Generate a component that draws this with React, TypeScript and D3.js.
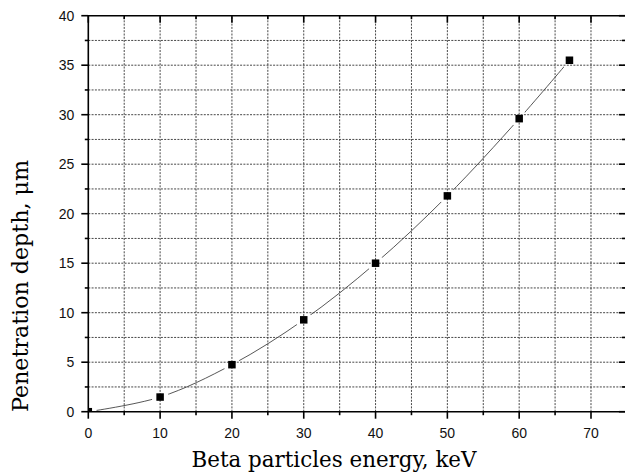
import React from "react";
import * as d3 from "d3";

const energies = [0, 10, 20, 30, 40, 50, 60, 67];
const depths = [0, 1.48, 4.75, 9.28, 15.0, 21.8, 29.6, 35.5];
const xMajor = [0, 10, 20, 30, 40, 50, 60, 70];
const xMinor = [5, 15, 25, 35, 45, 55, 65, 75];
const yMajor = [0, 5, 10, 15, 20, 25, 30, 35, 40];
const yMinor = [2.5, 7.5, 12.5, 17.5, 22.5, 27.5, 32.5, 37.5];
const xTitle = "Beta particles energy, keV";
const yTitle = "Penetration depth, \u03bcm";

export default function App() {
  const W = 625, H = 473;
  const x = d3.scaleLinear().domain([0, 75]).range([88.3, 626.9]);
  const y = d3.scaleLinear().domain([0, 40]).range([411.7, 15.7]);
  const [x0, x1] = x.range();
  const [y0, y1] = y.range();
  const pts: [number, number][] = energies.map((e, i) => [e, depths[i]]);
  const line = d3
    .line<[number, number]>()
    .x((d) => x(d[0]))
    .y((d) => y(d[1]))
    .curve(d3.curveCatmullRom.alpha(0.5));
  const grid = "#333";
  const axisW = 1.6;
  const ms = 7.5;
  return (
    <svg width={W} height={H} style={{ position: "absolute", left: 0, top: 0, background: "#fff" }}>
      <defs>
        <clipPath id="plot">
          <rect x={x0} y={y1} width={x1 - x0} height={y0 - y1} />
        </clipPath>
        <mask id="gaps" maskUnits="userSpaceOnUse" x={0} y={0} width={W} height={H}>
          <rect x={0} y={0} width={W} height={H} fill="#fff" />
          {pts.map((d, i) => (
            <circle key={i} cx={x(d[0])} cy={y(d[1])} r={8.5} fill="#000" />
          ))}
        </mask>
      </defs>
      <rect width={W} height={H} fill="#fff" />
      {/* grid */}
      <g stroke={grid} strokeWidth={0.9} strokeDasharray="2,1.3">
        {[...xMajor, ...xMinor]
          .filter((v) => v > 0 && v < 75)
          .map((v) => (
            <line key={"gx" + v} x1={x(v)} x2={x(v)} y1={y0} y2={y1} />
          ))}
        {[...yMajor, ...yMinor]
          .filter((v) => v > 0 && v < 40)
          .map((v) => (
            <line key={"gy" + v} x1={x0} x2={x1} y1={y(v)} y2={y(v)} />
          ))}
      </g>
      {/* curve */}
      <g clipPath="url(#plot)">
        <path d={line(pts) || ""} fill="none" stroke="#444" strokeWidth={0.9} mask="url(#gaps)" />
        {pts.map((d, i) => (
          <rect key={i} x={x(d[0]) - ms / 2} y={y(d[1]) - ms / 2} width={ms} height={ms} fill="#000" />
        ))}
      </g>
      {/* axes */}
      <g stroke="#000" strokeWidth={axisW} fill="none">
        <line x1={x0} x2={x0} y1={y0} y2={y1 - 0.8} />
        <line x1={x0} x2={x1} y1={y0} y2={y0} />
        <line x1={x0} x2={x1} y1={y1} y2={y1} />
        <line x1={x1 - 1} x2={x1 - 1} y1={y0} y2={y1} />
        {yMajor.map((v) => (
          <line key={"ly" + v} x1={x0 - 7} x2={x0} y1={y(v)} y2={y(v)} />
        ))}
        {yMinor.map((v) => (
          <line key={"lym" + v} x1={x0 - 3.5} x2={x0} y1={y(v)} y2={y(v)} />
        ))}
        {yMajor.map((v) => (
          <line key={"ry" + v} x1={x1 - 8} x2={x1} y1={y(v)} y2={y(v)} />
        ))}
        {yMinor.map((v) => (
          <line key={"rym" + v} x1={x1 - 5} x2={x1} y1={y(v)} y2={y(v)} />
        ))}
        {xMajor.map((v) => (
          <line key={"bx" + v} x1={x(v)} x2={x(v)} y1={y0} y2={y0 + 7} />
        ))}
        {xMinor.map((v) => (
          <line key={"bxm" + v} x1={x(v)} x2={x(v)} y1={y0} y2={y0 + 3.5} />
        ))}
        {xMajor.map((v) => (
          <line key={"tx" + v} x1={x(v)} x2={x(v)} y1={y1} y2={y1 + 7} />
        ))}
        {xMinor.map((v) => (
          <line key={"txm" + v} x1={x(v)} x2={x(v)} y1={y1} y2={y1 + 3.5} />
        ))}
      </g>
      {/* tick labels */}
      <g fontFamily="'Liberation Sans', Arial, sans-serif" fontSize={14} fill="#111">
        {yMajor.map((v) => (
          <text key={"tly" + v} x={x0 - 14} y={y(v)} dy="0.36em" textAnchor="end">
            {v}
          </text>
        ))}
        {xMajor.map((v) => (
          <text key={"tlx" + v} x={x(v)} y={y0 + 26} textAnchor="middle">
            {v}
          </text>
        ))}
      </g>
      {/* titles */}
      <text
        x={334}
        y={467}
        textAnchor="middle"
        fontFamily="'DejaVu Serif', serif"
        fontSize={22}
        fill="#000"
        textLength={285}
        lengthAdjust="spacingAndGlyphs"
      >
        {xTitle}
      </text>
      <text
        transform={`translate(28,286) rotate(-90)`}
        textAnchor="middle"
        fontFamily="'DejaVu Serif', serif"
        fontSize={22}
        fill="#000"
        textLength={252}
        lengthAdjust="spacingAndGlyphs"
      >
        {yTitle}
      </text>
    </svg>
  );
}
